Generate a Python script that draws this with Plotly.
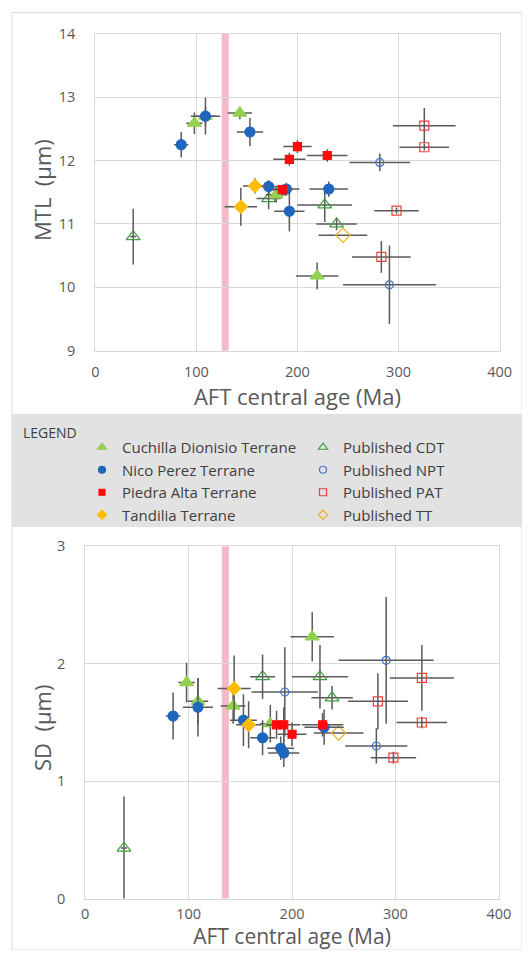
import plotly.graph_objects as go

# ---------------- data ----------------
x_ticks = [0, 100, 200, 300, 400]
mtl_ticks = [9, 10, 11, 12, 13, 14]
sd_ticks = [0, 1, 2, 3]

# Cuchilla Dionisio Terrane (this study)
cdt_age = [98, 109, 143, 179, 219.5]
cdt_age_err = [8, 10, 12, 10, 21]
cdt_mtl = [12.59, 12.70, 12.75, 11.46, 10.18]
cdt_mtl_err = [0.17, 0.15, 0.10, 0.12, 0.21]
cdt_sd = [1.84, 1.68, 1.64, 1.49, 2.23]
cdt_sd_err = [0.17, 0.20, 0.15, 0.16, 0.21]

# Nico Perez Terrane (this study)
npt_age = [85, 109, 153, 171.5, 189, 192, 231]
npt_age_err = [7, 14.5, 13, 12, 13, 15, 19]
npt_mtl = [12.25, 12.70, 12.45, 11.59, 11.55, 11.20, 11.55]
npt_mtl_err = [0.20, 0.29, 0.22, 0.10, 0.10, 0.32, 0.12]
npt_sd = [1.555, 1.63, 1.52, 1.37, 1.28, 1.24, 1.46]
npt_sd_err = [0.20, 0.25, 0.22, 0.15, 0.10, 0.12, 0.15]

# Piedra Alta Terrane (this study)
pat_age = [185, 192, 200, 229.5]
pat_age_err = [10, 16, 14, 20]
pat_mtl = [11.54, 12.02, 12.22, 12.08]
pat_mtl_err = [0.08, 0.10, 0.10, 0.10]
pat_sd = [1.48, 1.48, 1.40, 1.48]
pat_sd_err = [0.12, 0.15, 0.10, 0.10]

# Tandilia Terrane (this study)
tt_age = [144, 158]
tt_age_err = [16, 12]
tt_mtl = [11.27, 11.60]
tt_mtl_err = [0.30, 0.12]
tt_sd = [1.79, 1.48]
tt_sd_err = [0.28, 0.20]

# Published CDT
pcdt_age = [37.5, 171.5, 227, 238.7]
pcdt_age_err = [3, 12, 27, 20]
pcdt_mtl = [10.80, 11.40, 11.30, 11.00]
pcdt_mtl_err = [0.44, 0.17, 0.27, 0.10]
pcdt_sd = [0.43, 1.89, 1.89, 1.71]
pcdt_sd_err = [0.44, 0.19, 0.27, 0.10]

# Published NPT
pnpt_age = [193, 281.5, 291]
pnpt_age_err = [32, 30, 46]
pnpt_mtl = [None, 11.97, 10.04]
pnpt_mtl_err = [0, 0.14, 0.62]
pnpt_sd = [1.76, 1.30, 2.03]
pnpt_sd_err = [0.38, 0.15, 0.54]

# Published PAT
ppat_age = [325.5, 325.5, 298, 283]
ppat_age_err = [31, 24.5, 22, 29]
ppat_mtl = [12.55, 12.21, 11.21, 10.48]
ppat_mtl_err = [0.28, 0.05, 0.05, 0.25]
ppat_sd = [1.88, 1.50, 1.20, 1.68]
ppat_sd_err = [0.28, 0.05, 0.05, 0.24]

# Published TT
ptt_age = [245]
ptt_age_err = [24]
ptt_mtl = [10.82]
ptt_mtl_err = [0.0]
ptt_sd = [1.41]
ptt_sd_err = [0.0]

# pink reference band (Ma)
band_top = [125, 132]
band_bottom = [132, 139]

# ---------------- styling ----------------
# the page body keeps its default 8px margin, so the figure is sized to fit
# the 530x958 window exactly and page pixels are converted to figure pixels
OFF = 8
W, H = 530 - 2 * OFF, 958 - 2 * OFF
FONT = "Open Sans"
GREY_TXT = "#595959"
GRID = "#d9d9d9"
ERR = "#5a5a5a"

series = [
    # name, age, age_err, mtl, mtl_err, sd, sd_err, symbol, color, size, legend_size, legend
    ("Cuchilla Dionisio Terrane", cdt_age, cdt_age_err, cdt_mtl, cdt_mtl_err, cdt_sd, cdt_sd_err,
     "triangle-up", "#92D050", 12, 8, "legend"),
    ("Nico Perez Terrane", npt_age, npt_age_err, npt_mtl, npt_mtl_err, npt_sd, npt_sd_err,
     "circle", "#1E66BE", 10, 7, "legend"),
    ("Piedra Alta Terrane", pat_age, pat_age_err, pat_mtl, pat_mtl_err, pat_sd, pat_sd_err,
     "square", "#FF0A0A", 8, 6, "legend"),
    ("Tandilia Terrane", tt_age, tt_age_err, tt_mtl, tt_mtl_err, tt_sd, tt_sd_err,
     "diamond", "#FFBB00", 10, 7, "legend"),
    ("Published CDT", pcdt_age, pcdt_age_err, pcdt_mtl, pcdt_mtl_err, pcdt_sd, pcdt_sd_err,
     "triangle-up-open", "#3E9E3E", 12, 8, "legend2"),
    ("Published NPT", pnpt_age, pnpt_age_err, pnpt_mtl, pnpt_mtl_err, pnpt_sd, pnpt_sd_err,
     "circle-open", "#4472C4", 8, 7, "legend2"),
    ("Published PAT", ppat_age, ppat_age_err, ppat_mtl, ppat_mtl_err, ppat_sd, ppat_sd_err,
     "square-open", "#E8413A", 9, 7, "legend2"),
    ("Published TT", ptt_age, ptt_age_err, ptt_mtl, ptt_mtl_err, ptt_sd, ptt_sd_err,
     "diamond-open", "#F2B01E", 11, 7, "legend2"),
]

fig = go.Figure()

draw_order = [4, 5, 6, 7, 0, 1, 2, 3]
for i in draw_order:
    (name, age, age_err, mtl, mtl_err, sd, sd_err, sym, col, size, lsize, leg) = series[i]
    mk = dict(symbol=sym, color=col, size=size, line=dict(color=col, width=1.2))
    for yv, ye, xa, ya in ((mtl, mtl_err, "x", "y"), (sd, sd_err, "x2", "y2")):
        fig.add_trace(go.Scatter(
            x=age, y=yv, mode="markers", marker=mk, name=name, showlegend=False,
            xaxis=xa, yaxis=ya,
            error_x=dict(type="data", array=age_err, color=ERR, thickness=1.5, width=0),
            error_y=dict(type="data", array=ye, color=ERR, thickness=1.5, width=0),
        ))

# legend entries (empty traces carrying the legend glyphs)
for (name, age, age_err, mtl, mtl_err, sd, sd_err, sym, col, size, lsize, leg) in series:
    fig.add_trace(go.Scatter(
        x=[None], y=[None], mode="markers", name=name, legend=leg,
        marker=dict(symbol=sym, color=col, size=lsize, line=dict(color=col, width=1.2)),
        xaxis="x", yaxis="y", showlegend=True,
    ))


def px_x(p):
    """page x pixel -> paper fraction"""
    return (p - OFF) / W


def px_y(p):
    """page y pixel -> paper fraction"""
    return 1 - (p - OFF) / H


axis_common = dict(
    showgrid=True, gridcolor=GRID, gridwidth=1,
    showline=True, linecolor=GRID, linewidth=1, mirror=True, automargin=False,
    zeroline=False, ticks="", tickfont=dict(family=FONT, size=14.5, color=GREY_TXT),
)

LEG_FONT = dict(family=FONT, size=15, color="#404040")
TITLE_FONT = dict(family=FONT, size=22, color=GREY_TXT)

fig.update_layout(
    width=W, height=H, margin=dict(l=0, r=0, t=0, b=0, pad=0), autosize=False,
    paper_bgcolor="white", plot_bgcolor="white",
    font=dict(family=FONT, color=GREY_TXT),
    xaxis=dict(domain=[px_x(95.3), px_x(499.6)], range=[0, 400], tickvals=x_ticks,
               anchor="y", ticklabelstandoff=8,
               title=dict(text="AFT central age (Ma)", standoff=3, font=TITLE_FONT), **axis_common),
    yaxis=dict(domain=[px_y(350.7), px_y(33.8)], range=[9, 14], tickvals=mtl_ticks,
               anchor="x", ticklabelstandoff=16, **axis_common),
    xaxis2=dict(domain=[px_x(85.2), px_x(498.9)], range=[0, 400], tickvals=x_ticks,
                anchor="y2", ticklabelstandoff=2,
                title=dict(text="AFT central age (Ma)", standoff=0,
                           font=dict(family=FONT, size=21, color=GREY_TXT)), **axis_common),
    yaxis2=dict(domain=[px_y(898.6), px_y(546.4)], range=[0, 3], tickvals=sd_ticks,
                anchor="x2", ticklabelstandoff=16, **axis_common),
    legend=dict(x=px_x(82), y=px_y(431), xanchor="left", yanchor="top",
                bgcolor="rgba(0,0,0,0)", font=LEG_FONT,
                itemsizing="trace", orientation="v", tracegroupgap=0),
    legend2=dict(x=px_x(303), y=px_y(431), xanchor="left", yanchor="top",
                 bgcolor="rgba(0,0,0,0)", font=LEG_FONT,
                 itemsizing="trace", orientation="v", tracegroupgap=0),
    showlegend=True,
)

shapes = [
    # outer chart frame (left and top edges visible)
    dict(type="rect", xref="paper", yref="paper", x0=px_x(12), x1=1.0, y0=0.0, y1=px_y(12.5),
         line=dict(color="#dcdcdc", width=1), fillcolor="rgba(0,0,0,0)", layer="below"),
    # legend panel
    dict(type="rect", xref="paper", yref="paper", x0=px_x(12), x1=1.0, y0=px_y(527), y1=px_y(414),
         line=dict(width=0), fillcolor="#e2e2e2", layer="below"),
    # pink bands
    dict(type="rect", xref="x", yref="paper", x0=band_top[0], x1=band_top[1],
         y0=px_y(350.7), y1=px_y(33.8),
         line=dict(width=0), fillcolor="#F6B9C9", layer="below"),
    dict(type="rect", xref="x2", yref="paper", x0=band_bottom[0], x1=band_bottom[1],
         y0=px_y(898.6), y1=px_y(546.4),
         line=dict(width=0), fillcolor="#F6B9C9", layer="below"),
]
fig.update_layout(shapes=shapes)

# y-axis titles
fig.add_annotation(text="MTL\u00a0\u00a0(µm)", xref="paper", yref="paper", x=px_x(42), y=px_y(190),
                   xanchor="center", yanchor="middle", textangle=-90, showarrow=False,
                   font=TITLE_FONT)
fig.add_annotation(text="SD\u00a0\u00a0(µm)", xref="paper", yref="paper", x=px_x(42), y=px_y(728),
                   xanchor="center", yanchor="middle", textangle=-90, showarrow=False,
                   font=TITLE_FONT)

fig.add_annotation(text="LEGEND", xref="paper", yref="paper", x=px_x(21), y=px_y(432),
                   xanchor="left", yanchor="middle", showarrow=False,
                   font=dict(family=FONT, size=14, color="#404040"))

fig.write_html("out.html")
